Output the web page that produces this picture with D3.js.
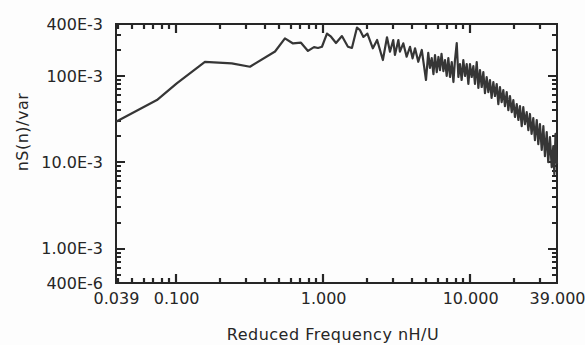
<!DOCTYPE html>
<html>
<head>
<meta charset="utf-8">
<script src="https://cdn.jsdelivr.net/npm/d3@7"></script>
<style>
  html, body { margin: 0; padding: 0; background: #fdfdfd; }
  svg { display: block; }
</style>
</head>
<body>
<svg id="svg"></svg>
<script>
// reduced frequency nH/U
const freq = [
  0.039, 0.074, 0.101, 0.157, 0.239, 0.318, 0.471, 0.55, 0.624, 0.707,
  0.789, 0.867, 0.923, 0.982, 1.062, 1.132, 1.224, 1.343, 1.475, 1.57,
  1.70, 1.78, 1.88, 2.0, 2.18, 2.33, 2.55, 2.72, 2.85, 3.0,
  3.08, 3.25, 3.33, 3.51, 3.70, 3.90, 4.06, 4.22, 4.44, 4.69,
  4.86, 5.01, 5.19, 5.33, 5.48, 5.63, 5.77, 5.93, 6.09, 6.24,
  6.39, 6.58, 6.75, 6.93, 7.11, 7.30, 7.50, 7.70, 7.89, 8.11,
  8.32, 8.53, 8.76, 8.99, 9.23, 9.48, 9.73, 9.98, 10.25, 10.52,
  10.79, 11.09, 11.38, 11.67, 11.99, 12.3, 12.62, 12.96, 13.3, 13.65,
  14.0, 14.39, 14.76, 15.17, 15.56, 15.96, 16.39, 16.82, 17.26, 17.74,
  18.2, 18.67, 19.19, 19.68, 20.19, 20.76, 21.29, 21.83, 22.44, 23.0,
  23.61, 24.27, 24.9, 25.53, 26.2, 26.9, 27.61, 28.4, 29.1, 29.86,
  30.7, 31.5, 32.29, 33.2, 34.0, 34.92, 35.9, 36.8, 37.4, 38.1,
  39.0
];

// nS(n)/var
const spectrum = [
  0.0295, 0.0526, 0.0822, 0.146, 0.140, 0.128, 0.192, 0.273, 0.238, 0.243,
  0.195, 0.216, 0.211, 0.218, 0.31, 0.285, 0.241, 0.29, 0.218, 0.211,
  0.364, 0.341, 0.283, 0.31, 0.209, 0.261, 0.153, 0.281, 0.191, 0.261,
  0.175, 0.261, 0.191, 0.239, 0.167, 0.218, 0.160, 0.209, 0.146, 0.200,
  0.130, 0.0898, 0.185, 0.124, 0.161, 0.105, 0.175, 0.111, 0.166, 0.117,
  0.180, 0.114, 0.153, 0.100, 0.161, 0.0973, 0.145, 0.0851, 0.153, 0.241,
  0.0973, 0.1375, 0.0898, 0.153, 0.100, 0.1375, 0.0807, 0.1375, 0.0973, 0.130,
  0.0807, 0.145, 0.0726, 0.117, 0.0745, 0.111, 0.0634, 0.0973, 0.0651, 0.0898,
  0.0556, 0.0851, 0.0586, 0.0807, 0.0472, 0.0745, 0.0499, 0.0687, 0.0448, 0.0651,
  0.0403, 0.0586, 0.0382, 0.0526, 0.0335, 0.0472, 0.0309, 0.0448, 0.0263, 0.0436,
  0.0277, 0.0382, 0.0236, 0.0363, 0.0213, 0.0326, 0.0181, 0.0309, 0.0162, 0.0277,
  0.0139, 0.0263, 0.0118, 0.0224, 0.01005, 0.0196, 0.0088, 0.0154, 0.0073, 0.0213,
  0.00954
];

const xTickValues = [0.039, 0.1, 1, 10, 39];
const xTickLabels = ["0.039", "0.100", "1.000", "10.000", "39.000"];
const yTickValues = [4e-4, 1e-3, 1e-2, 1e-1, 4e-1];
const yTickLabels = ["400E-6", "1.00E-3", "10.0E-3", "100E-3", "400E-3"];

const xTitle = "Reduced Frequency nH/U";
const yTitle = "nS(n)/var";

const width = 585;
const height = 345;
const margin = {top: 24, right: 28, bottom: 62, left: 116};
const ink = "#262626";

const svg = d3.select("#svg")
  .attr("width", width)
  .attr("height", height)
  .attr("viewBox", [0, 0, width, height])
  .attr("font-family", "'DejaVu Sans', sans-serif")
  .attr("font-size", 16);

const x = d3.scaleLog([xTickValues[0], xTickValues[xTickValues.length - 1]], [margin.left, width - margin.right]);
const y = d3.scaleLog([yTickValues[0], yTickValues[yTickValues.length - 1]], [height - margin.bottom, margin.top]);

const bottomY = height - margin.bottom;
const rightX = width - margin.right;

const isDecade = v => Math.abs(Math.log10(v) - Math.round(Math.log10(v))) < 1e-9;
const tickLen = v => isDecade(v) ? 9 : 5;

// inward ticks on all four sides (minor 2..9, long ones at decades)
const tickPath = [];
x.ticks(10).forEach(v => {
  const px = Math.round(x(v));
  tickPath.push(`M${px},${bottomY}V${bottomY - tickLen(v)}`);
  tickPath.push(`M${px},${margin.top}V${margin.top + tickLen(v)}`);
});
y.ticks(10).forEach(v => {
  const py = Math.round(y(v));
  tickPath.push(`M${margin.left},${py}H${margin.left + tickLen(v)}`);
  tickPath.push(`M${rightX},${py}H${rightX - tickLen(v)}`);
});

svg.append("path")
  .attr("d", tickPath.join(""))
  .attr("fill", "none")
  .attr("stroke", ink)
  .attr("stroke-width", 2.2);

// tick labels
svg.append("g")
  .attr("transform", `translate(0,${bottomY})`)
  .call(d3.axisBottom(x).tickValues(xTickValues).tickSize(0).tickPadding(10)
    .tickFormat((d, i) => xTickLabels[i]))
  .call(g => g.select(".domain").remove())
  .selectAll("text")
  .attr("fill", ink)
  .attr("font-size", 16)
  .attr("font-family", "'DejaVu Sans', sans-serif");

svg.append("g")
  .attr("transform", `translate(${margin.left},0)`)
  .call(d3.axisLeft(y).tickValues(yTickValues).tickSize(0).tickPadding(13)
    .tickFormat((d, i) => yTickLabels[i]))
  .call(g => g.select(".domain").remove())
  .selectAll("text")
  .attr("fill", ink)
  .attr("font-size", 16)
  .attr("font-family", "'DejaVu Sans', sans-serif");

// frame
svg.append("rect")
  .attr("x", margin.left)
  .attr("y", margin.top)
  .attr("width", rightX - margin.left)
  .attr("height", bottomY - margin.top)
  .attr("fill", "none")
  .attr("stroke", ink)
  .attr("stroke-width", 2);

// spectrum
svg.append("path")
  .datum(d3.zip(freq, spectrum))
  .attr("fill", "none")
  .attr("stroke", "#363636")
  .attr("stroke-width", 2.2)
  .attr("stroke-linejoin", "round")
  .attr("d", d3.line()
    .x(d => x(d[0]))
    .y(d => y(d[1])));

// axis titles
svg.append("text")
  .attr("x", 333)
  .attr("y", 340)
  .attr("text-anchor", "middle")
  .attr("letter-spacing", 0.5)
  .attr("fill", ink)
  .text(xTitle);

svg.append("text")
  .attr("transform", "translate(28,132) rotate(-90)")
  .attr("text-anchor", "middle")
  .attr("letter-spacing", 0.5)
  .attr("fill", ink)
  .text(yTitle);
</script>
</body>
</html>
